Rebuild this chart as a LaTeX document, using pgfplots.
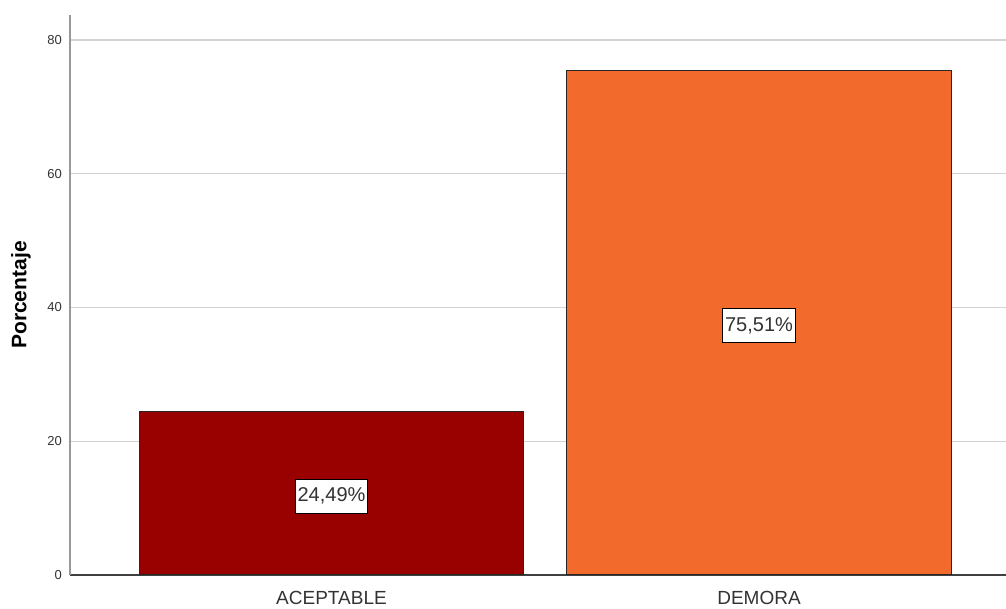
\documentclass[border=0pt]{standalone}
\usepackage{pgfplots}
\pgfplotsset{compat=1.18}
\usepackage{fontspec}
\setmainfont{Liberation Sans}
\definecolor{barred}{HTML}{990000}
\definecolor{barorange}{HTML}{F26B2D}
\definecolor{gridgray}{HTML}{D2D2D2}
\definecolor{txt}{HTML}{333333}
\begin{document}
\begin{tikzpicture}
\useasboundingbox (-70pt,-34pt) rectangle (936pt,575pt);
\begin{axis}[
    at={(0,0)}, anchor=south west,
    scale only axis,
    width=936pt, height=560pt,
    xmin=-0.6117, xmax=1.5778,
    ymin=0, ymax=83.74,
    axis x line*=bottom,
    axis y line*=left,
    x axis line style={draw=black!75, line width=1.4pt, -},
    y axis line style={draw=black!40, line width=1.4pt, -},
    xtick={0,1},
    xticklabels={ACEPTABLE,DEMORA},
    ytick={0,20,40,60,80},
    major tick length=0pt,
    tick style={draw=none},
    ymajorgrids,
    grid style={draw=gridgray, line width=1.2pt},
    xticklabel style={font=\fontsize{19}{21}\selectfont, text=txt, anchor=center, yshift=-23pt},
    yticklabel style={font=\fontsize{13}{15}\selectfont, text=txt, anchor=east, inner sep=0pt, xshift=-8pt},
    /pgf/number format/assume math mode=true,
    ylabel={Porcentaje},
    ylabel style={font=\bfseries\fontsize{21}{23}\selectfont, text=black, at={(axis description cs:-0.0524,0.5)}, anchor=center, rotate=0},
    ybar, bar width=0.9, bar shift=0pt,
]
\addplot[fill=barred, draw=black!85, line width=1pt] coordinates {(0,24.49)};
\addplot[fill=barorange, draw=black!85, line width=1pt] coordinates {(1,75.51)};
\addplot[only marks, mark=none, point meta=explicit symbolic,
    nodes near coords,
    every node near coord/.style={anchor=center, fill=white, draw=black, line width=0.9pt,
        font=\fontsize{20}{22}\selectfont, text=txt, inner sep=2.5pt, minimum height=34pt, yshift=-3pt}]
    coordinates {(0,12.245) [24,49\%] (1,37.755) [75,51\%]};
\end{axis}
\end{tikzpicture}
\end{document}
